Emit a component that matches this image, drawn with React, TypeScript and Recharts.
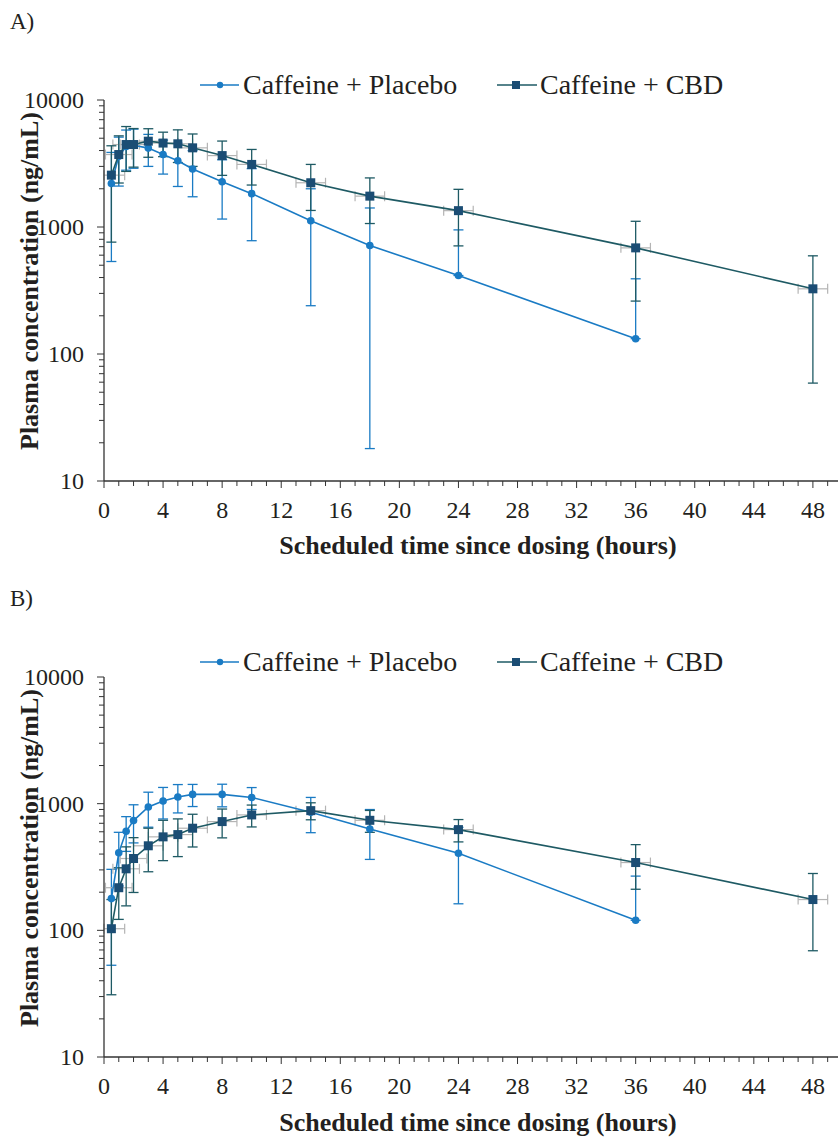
import React from "react";
import { ScatterChart, Scatter, XAxis, YAxis, ErrorBar, Label } from "recharts";

const FONT = '"Liberation Serif", "Times New Roman", serif';
const PLACEBO = "#1a7bc4";
const CBD_LINE = "#1e5a64";
const CBD_MARK = "#1b4d74";
const X_ERR = "#b4b4b4";
const TEXT = "#231f20";
const AXIS = "#333333";

// scheduled sampling times (hours)
const placeboTimes = [0.5, 1, 1.5, 2, 3, 4, 5, 6, 8, 10, 14, 18, 24, 36];
const cbdTimes = [0.5, 1, 1.5, 2, 3, 4, 5, 6, 8, 10, 14, 18, 24, 36, 48];

// A) caffeine
const aPlaceboMean = [2200, 3600, 4300, 4400, 4180, 3720, 3320, 2860, 2270, 1830, 1120, 715, 415, 132];
const aPlaceboSd = [1665, 1500, 1500, 1500, 1180, 1110, 1235, 1130, 1115, 1050, 880, 697, 534, 259];
const aCbdMean = [2560, 3720, 4460, 4460, 4740, 4580, 4520, 4200, 3650, 3110, 2230, 1750, 1345, 685, 326];
const aCbdSd = [1800, 1500, 1720, 1500, 1200, 1000, 1300, 1200, 1100, 970, 880, 685, 635, 424, 267];

// B) paraxanthine
const bPlaceboMean = [178, 409, 605, 735, 942, 1050, 1130, 1184, 1184, 1120, 855, 631, 406, 120];
const bPlaceboSd = [125, 185, 185, 245, 290, 293, 285, 235, 240, 220, 265, 268, 244, 148];
const bCbdMean = [103, 217, 306, 369, 465, 547, 570, 640, 722, 815, 881, 739, 624, 343, 175];
const bCbdSd = [72, 95, 150, 170, 175, 192, 188, 185, 185, 160, 135, 145, 125, 132, 106];

// spread of actual sampling times around the schedule (hours)
const cbdTimeSd = [0.9, 0.9, 0.9, 0.9, 1, 1, 1, 1, 1, 1, 1, 1, 1, 1, 1];

const xMajorTicks = [0, 4, 8, 12, 16, 20, 24, 28, 32, 36, 40, 44, 48];
const yMajorTicks = [10, 100, 1000, 10000];

const xTicks: number[] = [];
for (let h = 0; h <= 49; h++) xTicks.push(h);
const yTicks: number[] = [];
[10, 100, 1000].forEach((d) => {
  for (let m = 1; m < 10; m++) yTicks.push(d * m);
});
yTicks.push(10000);

const buildRows = (times: number[], mean: number[], sd: number[], tSd?: number[]) =>
  times.map((t, i) => ({
    t,
    v: mean[i],
    // no lower whisker when mean - SD falls below zero (log axis)
    yErr: [mean[i] - sd[i] > 0 ? sd[i] : 0, sd[i]],
    xErr: tSd ? [Math.min(tSd[i], t), tSd[i]] : [0, 0],
  }));

const PlaceboDot = (props: any) => (
  <circle cx={props.cx} cy={props.cy} r={3.8} fill={PLACEBO} />
);
const CbdSquare = (props: any) => (
  <rect x={props.cx - 4.5} y={props.cy - 4.5} width={9} height={9} fill={CBD_MARK} />
);

const XTick = ({ x, y, payload }: any) => {
  const major = xMajorTicks.includes(payload.value);
  return (
    <g>
      <line x1={x} x2={x} y1={y} y2={y + (major ? 7 : 5)} stroke={AXIS} strokeWidth={1} />
      {major && (
        <text x={x} y={y + 37} textAnchor="middle" fontSize={24} fontFamily={FONT} fill={TEXT}>
          {payload.value}
        </text>
      )}
    </g>
  );
};

const YTick = ({ x, y, payload }: any) => {
  const major = yMajorTicks.includes(payload.value);
  return (
    <g>
      <line x1={x - (major ? 7 : 5)} x2={x} y1={y} y2={y} stroke={AXIS} strokeWidth={1} />
      {major && (
        <text x={x - 20} y={y} dy="0.34em" textAnchor="end" fontSize={24} fontFamily={FONT} fill={TEXT}>
          {payload.value}
        </text>
      )}
    </g>
  );
};

interface PanelProps {
  letter: string;
  height: number;
  bottom: number;
  placebo: ReturnType<typeof buildRows>;
  cbd: ReturnType<typeof buildRows>;
}

const Panel: React.FC<PanelProps> = ({ letter, height, bottom, placebo, cbd }) => (
  <div style={{ position: "relative", width: 838, height }}>
    <ScatterChart
      width={838}
      height={height}
      margin={{ top: 100, right: 0, left: 0, bottom }}
    >
      <XAxis
        type="number"
        dataKey="t"
        domain={[0, 49.7]}
        ticks={xTicks}
        interval={0}
        tick={<XTick />}
        tickLine={false}
        tickSize={0}
        tickMargin={0}
        height={80}
        axisLine={{ stroke: AXIS, strokeWidth: 1.3 }}
        allowDataOverflow
      >
        <Label
          content={() => (
            <text x={478} y={554} textAnchor="middle" fontSize={26} fontWeight="bold" fontFamily={FONT} fill={TEXT}>
              Scheduled time since dosing (hours)
            </text>
          )}
        />
      </XAxis>
      <YAxis
        type="number"
        dataKey="v"
        scale="log"
        domain={[10, 10000]}
        ticks={yTicks}
        interval={0}
        tick={<YTick />}
        tickLine={false}
        tickSize={0}
        tickMargin={0}
        width={104}
        axisLine={{ stroke: AXIS, strokeWidth: 1.3 }}
        allowDataOverflow
      >
        <Label
          content={() => (
            <text
              x={38}
              y={281}
              transform="rotate(-90 38 281)"
              textAnchor="middle"
              fontSize={26}
              fontWeight="bold"
              fontFamily={FONT}
              fill={TEXT}
            >
              Plasma concentration (ng/mL)
            </text>
          )}
        />
      </YAxis>
      <Scatter
        name="Caffeine + Placebo"
        data={placebo}
        shape={<PlaceboDot />}
        line={{ stroke: PLACEBO, strokeWidth: 1.6 }}
        isAnimationActive={false}
      >
        <ErrorBar dataKey="yErr" direction="y" width={5} stroke={PLACEBO} strokeWidth={1.3} isAnimationActive={false} />
      </Scatter>
      <Scatter
        name="Caffeine + CBD"
        data={cbd}
        shape={<CbdSquare />}
        line={{ stroke: CBD_LINE, strokeWidth: 1.6 }}
        isAnimationActive={false}
      >
        <ErrorBar dataKey="xErr" direction="x" width={5} stroke={X_ERR} strokeWidth={1.2} isAnimationActive={false} />
        <ErrorBar dataKey="yErr" direction="y" width={5} stroke={CBD_LINE} strokeWidth={1.3} isAnimationActive={false} />
      </Scatter>
    </ScatterChart>
    <svg
      width={838}
      height={110}
      style={{ position: "absolute", left: 0, top: 0, pointerEvents: "none" }}
    >
      <text x={10} y={29} fontSize={23} fontFamily={FONT} fill={TEXT}>
        {letter}
      </text>
      <line x1={200} x2={239} y1={85} y2={85} stroke={PLACEBO} strokeWidth={1.6} />
      <circle cx={220} cy={85} r={3.2} fill={PLACEBO} />
      <text x={243} y={94} fontSize={28} fontFamily={FONT} fill={TEXT}>
        Caffeine + Placebo
      </text>
      <line x1={497} x2={537} y1={85} y2={85} stroke={CBD_LINE} strokeWidth={1.6} />
      <rect x={512} y={81} width={8} height={8} fill={CBD_MARK} />
      <text x={540} y={94} fontSize={28} fontFamily={FONT} fill={TEXT}>
        Caffeine + CBD
      </text>
    </svg>
  </div>
);

const App: React.FC = () => (
  <div style={{ position: "absolute", left: 0, top: 0, width: 838, height: 1137, background: "#fff" }}>
    <Panel
      letter="A)"
      height={577}
      bottom={16}
      placebo={buildRows(placeboTimes, aPlaceboMean, aPlaceboSd)}
      cbd={buildRows(cbdTimes, aCbdMean, aCbdSd, cbdTimeSd)}
    />
    <Panel
      letter="B)"
      height={560}
      bottom={0}
      placebo={buildRows(placeboTimes, bPlaceboMean, bPlaceboSd)}
      cbd={buildRows(cbdTimes, bCbdMean, bCbdSd, cbdTimeSd)}
    />
  </div>
);

export default App;
